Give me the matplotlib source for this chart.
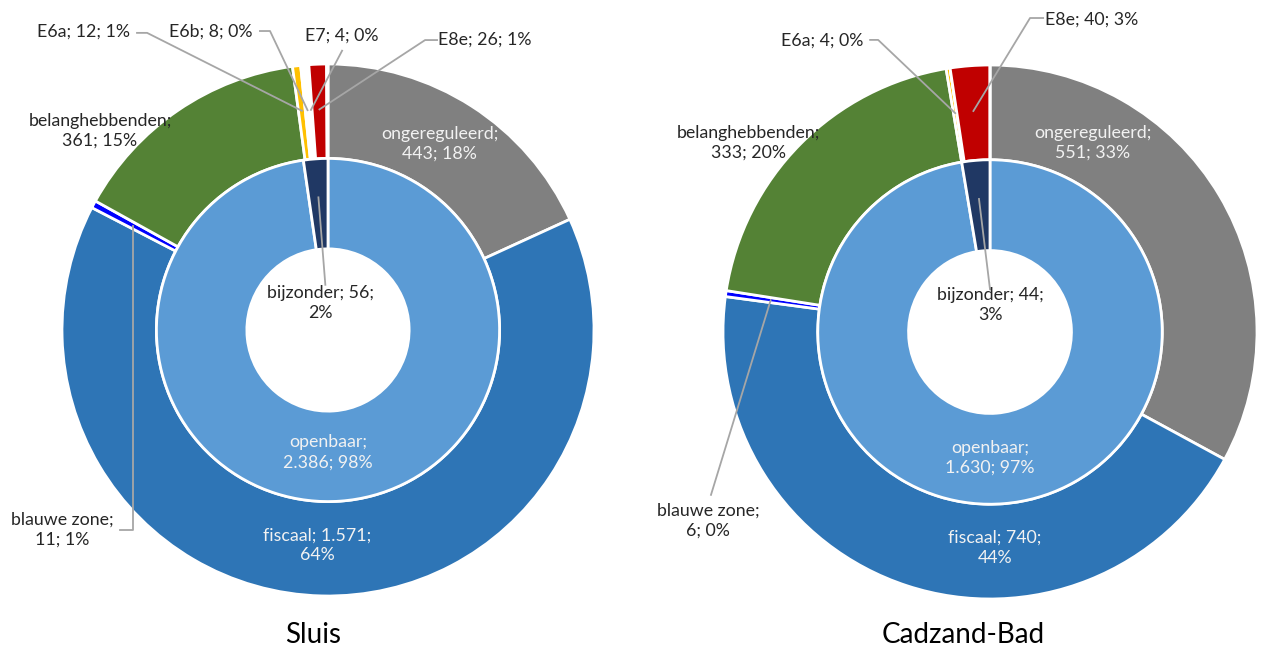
import numpy as np
import matplotlib.pyplot as plt

plt.rcParams['font.family'] = ['Lato', 'DejaVu Sans']

# outer ring categories (clockwise from top)
outer_names = ['ongereguleerd', 'fiscaal', 'blauwe zone', 'belanghebbenden',
               'E6a', 'E6b', 'E7', 'E8e', 'overig']
outer_colors = ['#808080', '#2E75B6', '#0000FF', '#548235',
                '#FFC000', '#FFFFFF', '#203864', '#C00000', '#FFC000']
inner_names = ['openbaar', 'bijzonder']
inner_colors = ['#5B9BD5', '#203864']

sluis_outer = [443, 1571, 11, 361, 12, 8, 4, 26, 2]
sluis_inner = [2386, 56]
cadzand_outer = [551, 740, 6, 333, 4, 0, 0, 40, 0]
cadzand_inner = [1630, 44]

sluis_labels = ['ongereguleerd;\n443; 18%', 'fiscaal; 1.571;\n64%', 'blauwe zone;\n11; 1%',
                'belanghebbenden;\n361; 15%', 'E6a; 12; 1%', 'E6b; 8; 0%', 'E7; 4; 0%',
                'E8e; 26; 1%', '']
sluis_inner_labels = ['openbaar;\n2.386; 98%', 'bijzonder; 56;\n2%']
cadzand_labels = ['ongereguleerd;\n551; 33%', 'fiscaal; 740;\n44%', 'blauwe zone;\n6; 0%',
                  'belanghebbenden;\n333; 20%', 'E6a; 4; 0%', '', '', 'E8e; 40; 3%', '']
cadzand_inner_labels = ['openbaar;\n1.630; 97%', 'bijzonder; 44;\n3%']

R_OUT, W_OUT = 1.0, 0.355
R_IN, W_IN = 0.645, 0.34
WHITE = '#F2F2F2'
DARK = '#262626'
LEAD = '#A6A6A6'
FS = 12.8


def mid_point(values, i, r):
    tot = float(sum(values))
    frac = (sum(values[:i]) + values[i] / 2.0) / tot
    ang = np.deg2rad(90 - frac * 360)
    return r * np.cos(ang), r * np.sin(ang)


def leader(ax, lead, tx, ty):
    pts = []
    for p in lead:
        # 'v' in x: take the x of the target (vertical leg)
        pts.append((tx if p[0] == 'v' else p[0], p[1]))
    pts.append((tx, ty))
    ax.plot([p[0] for p in pts], [p[1] for p in pts], color=LEAD, lw=1.3, clip_on=False)


def draw(ax, outer, inner, labels, inner_labels, layout):
    ax.pie(outer, radius=R_OUT, colors=outer_colors, startangle=90, counterclock=False,
           wedgeprops=dict(width=W_OUT, edgecolor='white', linewidth=2))
    ax.pie(inner, radius=R_IN, colors=inner_colors, startangle=90, counterclock=False,
           wedgeprops=dict(width=W_IN, edgecolor='white', linewidth=2))
    ax.set_xlim(-1, 1)
    ax.set_ylim(-1, 1)
    ax.set_aspect('equal')
    ax.axis('off')

    for i, lab in enumerate(labels):
        if not lab:
            continue
        x, y, col, lead = layout[lab.split(';')[0]]
        ax.text(x, y, lab, ha='center', va='center', fontsize=FS, color=col,
                linespacing=1.3, clip_on=False)
        if lead is not None:
            tx, ty = mid_point(outer, i, 0.83)
            leader(ax, lead, tx, ty)

    for i, lab in enumerate(inner_labels):
        x, y, col, lead = layout[lab.split(';')[0]]
        ax.text(x, y, lab, ha='center', va='center', fontsize=FS, color=col,
                linespacing=1.3, clip_on=False)
        if lead is not None:
            tx, ty = mid_point(inner, i, 0.5)
            leader(ax, lead, tx, ty)


fig = plt.figure(figsize=(12.62, 6.53), dpi=100)

# Sluis: centre (328, 330) px, radius 266 px
ax1 = fig.add_axes([62 / 1262, 57 / 653, 532 / 1262, 532 / 653])
sluis_layout = {
    'ongereguleerd': (0.42, 0.70, WHITE, None),
    'fiscaal': (-0.04, -0.81, WHITE, None),
    'blauwe zone': (-1.0, -0.752, DARK, [(-0.782, -0.752), ('v', -0.752)]),
    'belanghebbenden': (-0.857, 0.748, DARK, None),
    'E6a': (-0.921, 1.12, DARK, [(-0.718, 1.117), (-0.68, 1.117)]),
    'E6b': (-0.44, 1.12, DARK, [(-0.256, 1.124), (-0.218, 1.124)]),
    'E7': (0.053, 1.105, DARK, [(0.053, 1.05)]),
    'E8e': (0.59, 1.09, DARK, [(0.41, 1.09), (0.365, 1.09)]),
    'openbaar': (0.0, -0.46, WHITE, None),
    'bijzonder': (-0.03, 0.10, DARK, [(-0.01, 0.17)]),
}
draw(ax1, sluis_outer, sluis_inner, sluis_labels, sluis_inner_labels, sluis_layout)

# Cadzand-Bad: centre (990, 332) px, radius 267 px
ax2 = fig.add_axes([723 / 1262, 54 / 653, 534 / 1262, 534 / 653])
cadzand_layout = {
    'ongereguleerd': (0.386, 0.708, WHITE, None),
    'fiscaal': (0.019, -0.809, WHITE, None),
    'blauwe zone': (-1.056, -0.708, DARK, [(-1.045, -0.61)]),
    'belanghebbenden': (-0.906, 0.708, DARK, None),
    'E6a': (-0.629, 1.09, DARK, [(-0.449, 1.094), (-0.419, 1.094)]),
    'E8e': (0.382, 1.169, DARK, [(0.199, 1.176), (0.15, 1.176)]),
    'openbaar': (0.0, -0.472, WHITE, None),
    'bijzonder': (0.0, 0.10, DARK, [(0.0, 0.16)]),
}
draw(ax2, cadzand_outer, cadzand_inner, cadzand_labels, cadzand_inner_labels, cadzand_layout)

fig.text(313 / 1262, 1 - 635 / 653, 'Sluis', ha='center', va='center', fontsize=20, color='black')
fig.text(963 / 1262, 1 - 635 / 653, 'Cadzand-Bad', ha='center', va='center', fontsize=20, color='black')

fig.savefig('out.png', dpi=100, facecolor='white')
